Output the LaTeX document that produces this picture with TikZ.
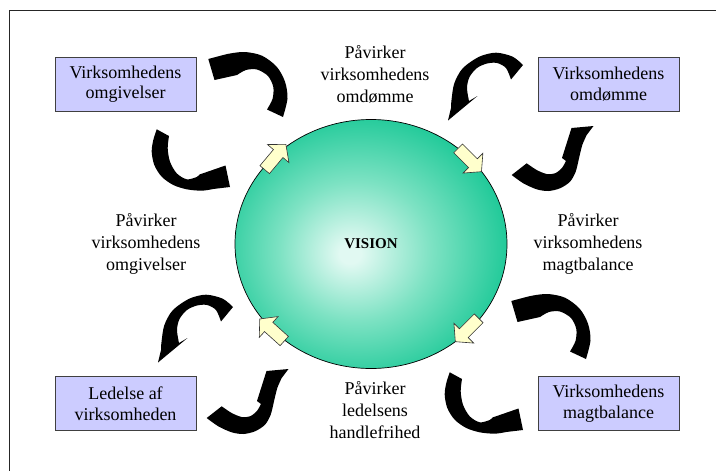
\documentclass[tikz,border=0pt]{standalone}
\usepackage{fontspec}
\setmainfont{Liberation Serif}
\usetikzlibrary{shapes.geometric}
\definecolor{boxblue}{HTML}{CCCCFF}
\definecolor{visin}{RGB}{225,249,242}
\definecolor{vismid}{RGB}{125,226,195}
\definecolor{visout}{RGB}{26,200,150}
\definecolor{yfill}{HTML}{FFFFCC}
\pgfdeclareradialshading{visionshade}{\pgfpoint{-4bp}{-2bp}}{color(0bp)=(visin); color(2bp)=(visin); color(14bp)=(vismid); color(28bp)=(visout); color(50bp)=(visout)}
\newcommand\yarrowpath{(-16.5,-6.2) -- (4.5,-6.2) -- (4.5,-14) -- (16.5,0) -- (4.5,14) -- (4.5,6.2) -- (-16.5,6.2) -- cycle}
\newcommand\arrA{(267,109.5) -- plot[smooth] coordinates {(267,109.5) (272.5,99) (273.3,87) (268,76) (257,69.5) (246,70) (237,75)} -- (214.5,80) -- (208.3,59) -- plot[smooth] coordinates {(219.5,56) (230,53.5) (245,52) (262,55.7) (276.7,66.7) (285,81.7) (287.5,98.3) (283,117)} -- cycle}
\newcommand\arrB{(511,79.5) -- plot[smooth] coordinates {(511,79.5) (506,68) (497,63) (487,63.5) (477,68) (469.5,77) (467,88) (469,101)} -- (477.5,96) -- (448,120.5) -- plot[smooth] coordinates {(451,108) (451.5,100) (454.3,83.3) (462.7,68.3) (479.3,56.7) (496,52.7) (512.7,56.7) (523,65)} -- cycle}
\newcommand\arrC{(169,136) -- plot[smooth] coordinates {(169,136) (167.7,148.3) (170,161.7) (176.7,173.3) (186.7,179.3) (196.7,177) (199.5,174.5)} -- (225.5,165.5) -- (230,187) -- plot[smooth] coordinates {(213.3,189) (201.7,190.7) (186.7,189.3) (173.3,185) (161.7,176.7) (154.3,165) (151.7,151.7) (153.3,140) (156.7,129.3)} -- cycle}
\newcommand\arrD{(526.7,163.3) -- plot[smooth] coordinates {(526.7,163.3) (536.7,170) (546.7,174) (555,173.3) (561.7,168.3) (566,161)} -- (562,158) -- (571.5,128) -- (593.5,126) -- plot[smooth] coordinates {(586.7,135) (582.3,145) (579,158.3) (575.7,171.7) (570,181.7) (560,188.3) (548.3,191) (536.7,189.3) (523.3,183.3) (511.7,175)} -- cycle}
\begin{document}
\begin{tikzpicture}[x=1pt,y=-1pt,
  lbl/.style={align=center, font=\fontsize{18}{22}\selectfont, inner sep=0pt},
  boxnode/.style={draw=black!75, line width=0.8pt, fill=boxblue, minimum width=141pt, minimum height=54pt, inner sep=0pt, align=center, font=\fontsize{18}{20.5}\selectfont},
  blk/.style={fill=black},
  yarr/.style={fill=yfill, draw=black!80, line width=0.6pt, line join=miter}]
\useasboundingbox (0,0) rectangle (716,471);
\draw[line width=1pt, black!85] (9,476) -- (9,10) -- (721,10);
% central ellipse
\node[ellipse, draw=black, line width=0.7pt, shade, shading=visionshade, minimum width=272pt, minimum height=249pt, inner sep=0pt, font=\fontsize{15}{18}\selectfont\bfseries] (vision) at (371,244) {VISION};
% yellow tangent arrows
\draw[yarr, shift={(275.3,157)}, rotate=50] \yarrowpath;
\draw[yarr, shift={(469.8,160)}, rotate=-45] \yarrowpath;
\draw[yarr, shift={(467,330)}, rotate=-135] \yarrowpath;
\draw[yarr, shift={(272,330)}, rotate=138] \yarrowpath;
% boxes
\node[boxnode] (omg) at (125.5,84) {Virksomhedens\\omgivelser};
\node[boxnode] (omd) at (608.5,84) {Virksomhedens\\omdømme};
\node[boxnode] (led) at (125.5,403.5) {Ledelse af\\virksomheden};
\node[boxnode] (mag) at (608.5,403.5) {Virksomhedens\\magtbalance};
% labels
\node[lbl] (ttop) at (375,74) {Påvirker\\virksomhedens\\omdømme};
\node[lbl] (tleft) at (146,244) {Påvirker\\virksomhedens\\omgivelser};
\node[lbl] (tright) at (588,244) {Påvirker\\virksomhedens\\magtbalance};
\node[lbl] (tbot) at (375,410) {Påvirker\\ledelsens\\handlefrihed};
% curved block arrows
\fill[blk] \arrA;
\fill[blk, shift={(303,242)}] \arrA;
\fill[blk] \arrB;
\fill[blk, shift={(-290,242)}] \arrB;
\fill[blk] \arrC;
\fill[blk, shift={(293,243)}] \arrC;
\fill[blk] \arrD;
\fill[blk, shift={(-305,243)}] \arrD;
\end{tikzpicture}
\end{document}
